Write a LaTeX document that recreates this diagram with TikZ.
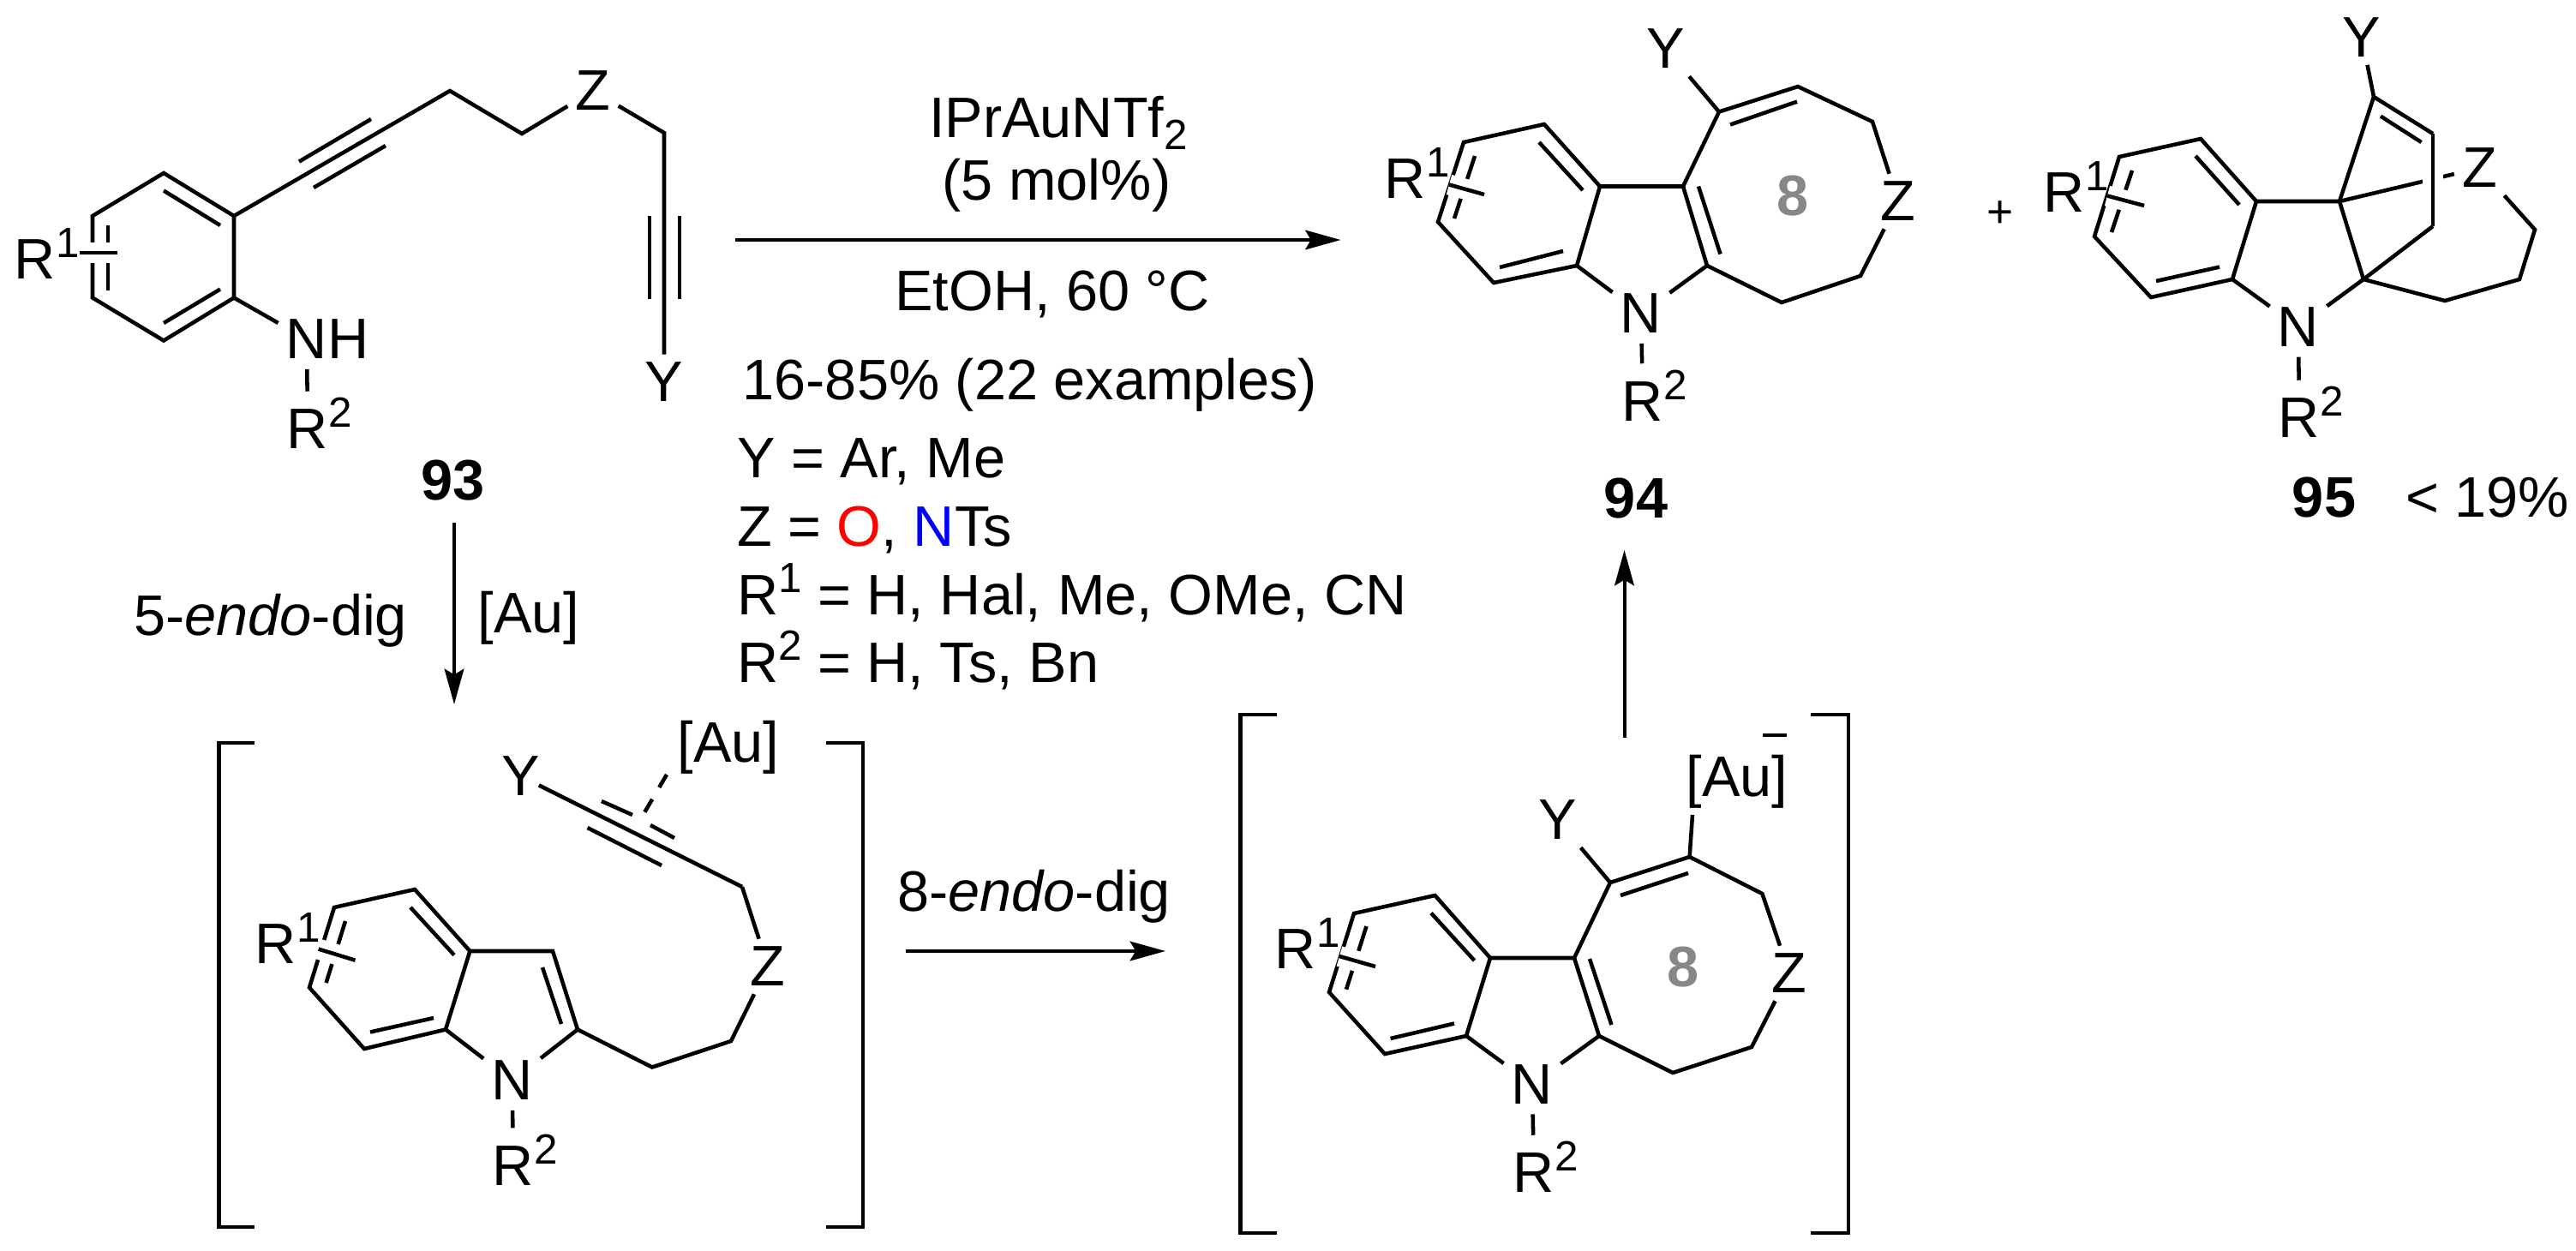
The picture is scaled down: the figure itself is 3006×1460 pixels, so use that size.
\documentclass[tikz,border=0pt]{standalone}
\usepackage{fontspec}
\setmainfont{Liberation Sans}
\usetikzlibrary{arrows.meta}

\newcommand{\chemfont}{\fontsize{50}{60}\selectfont}
\newcommand{\supn}[1]{\raisebox{19pt}[0pt][0pt]{\fontsize{37}{37}\selectfont #1}}
\newcommand{\subn}[1]{\raisebox{-10.5pt}[0pt][0pt]{\fontsize{37}{37}\selectfont #1}}

\tikzset{
  bond/.style={line width=3.4pt, line join=miter},
  subbond/.style={bond, preaction={draw, white, line width=18pt}},
  brk/.style={line width=3.4pt, line join=miter},
  rxn/.style={line width=3pt, -{Stealth[length=31pt, width=17pt, inset=5pt]}},
  atom/.style={inner sep=7pt, outer sep=0pt, font=\chemfont},
  txt/.style={inner sep=0pt, font=\chemfont},
  ringno/.style={inner sep=0pt, font=\chemfont\bfseries, text=black!47},
}

\begin{document}
\begin{tikzpicture}[x=0.75pt,y=0.75pt,yscale=-1,xscale=1]
\useasboundingbox (0,0) rectangle (3006,1460);

% 93
\foreach \nm/\px/\py in {a1/191/202, a2/273/252, a3/273/347.5, a4/191/397.5, a5/108/347.5, a6/108/252,
    a7/525/106, a8/609/156, a9/775/155, a10/93/295, a11/137/295}
  \coordinate (\nm) at (\px,\py);
\node (az) at (692,106) [atom] {Z};
\node (ay) at (775,446) [atom] {Y};
\node (an) at (358,396) [atom] {N};
\node (ah) at (407,396) [atom] {H};
\node (ar1) at (41,303) [atom] {R\rlap{\supn{1}}};
\node (ar2) at (359,501) [atom] {R\rlap{\supn{2}}};
\draw [bond] (a1) -- (a2) -- (a3) -- (a4) -- (a5) -- (a6) -- cycle;
\draw [bond] (a2) -- (a7) -- (a8) -- (az);
\draw [bond] (az) -- (a9) -- (ay);
\draw [bond] (a3) -- (an);
\draw [bond, shorten <=2pt, shorten >=9pt] (an) -- (ar2);
\draw [bond] (191,222.5) -- (257,263);
\draw [bond] (191,377) -- (257,337.5);
\draw [bond] (126,263) -- (126,338.5);
\draw [bond] (349,188.6) -- (433,139);
\draw [bond] (366,219) -- (450,170);
\draw [bond] (758,252) -- (758,349);
\draw [bond] (793,252) -- (793,349);
\draw [subbond] (a10) -- (a11);
\node (n93) at (529,583) [txt, anchor=base] {\bfseries 93};

% conditions
\coordinate (m1) at (858,280);
\coordinate (m2) at (1564.5,280);
\draw [rxn] (m1) -- (m2);
\node (cat) at (1235,160) [txt, anchor=base] {IPrAuNTf\subn{2}};
\node (load) at (1233,233) [txt, anchor=base] {(5 mol\%)};
\node (solv) at (1228,362) [txt, anchor=base] {EtOH, 60 °C};
\node (yield) at (1202,466) [txt, anchor=base] {16-85\% (22 examples)};
\node (ylist) at (860,557) [txt, anchor=base west] {Y = Ar, Me};
\node (zlist) at (860,637) [txt, anchor=base west] {Z = \textcolor{red}{O}, \textcolor{blue}{N}Ts};
\node (r1list) at (860,717) [txt, anchor=base west] {R\supn{1} = H, Hal, Me, OMe, CN};
\node (r2list) at (860,796) [txt, anchor=base west] {R\supn{2} = H, Ts, Bn};

% 94
\foreach \nm/\px/\py in {b1/1708/166, b2/1802/145, b3/1867/217.5, b4/1840/310, b5/1743/330, b6/1678/259,
    b7/1964/217.5, b8/1992/310, b9/2006/130.5, b10/2098/101, b11/2185/142, b12/2171/322, b13/2079/353,
    b14/1691/215.5, b15/1732/227}
  \coordinate (\nm) at (\px,\py);
\node (bz) at (2215,235) [atom] {Z};
\node (by) at (1944,57) [atom] {Y};
\node (bn) at (1915,366) [atom] {N};
\node (br1) at (1640,209) [atom] {R\rlap{\supn{1}}};
\node (br2) at (1917,468.5) [atom] {R\rlap{\supn{2}}};
\draw [bond] (b1) -- (b2) -- (b3) -- (b4) -- (b5) -- (b6) -- cycle;
\draw [bond] (b3) -- (b7) -- (b8);
\draw [bond] (b7) -- (b9) -- (b10) -- (b11) -- (bz);
\draw [bond] (bz) -- (b12) -- (b13) -- (b8);
\draw [bond] (b9) -- (by);
\draw [bond] (b4) -- (bn);
\draw [bond] (b8) -- (bn);
\draw [bond, shorten <=2pt, shorten >=9pt] (bn) -- (br2);
\draw [bond] (1796,166) -- (1847,222);
\draw [bond] (1750,312) -- (1824,293);
\draw [bond] (1721,182) -- (1697,255);
\draw [bond] (2019,145.5) -- (2097,118.6);
\draw [bond] (1982,217.5) -- (2007.5,296.5);
\draw [subbond] (b14) -- (b15);
\node (eightb) at (2092,229) [ringno] {8};
\node (n94) at (1909,604) [txt, anchor=base] {\bfseries 94};
\node (plus) at (2334,250) [inner sep=0pt, font=\fontsize{40}{48}\selectfont] {+};

% 95
\foreach \nm/\px/\py in {c1/2473/183, c2/2568/162, c3/2633/235, c4/2605/326, c5/2510/347, c6/2444/276,
    c7/2730/235, c8/2758/326, c9/2770/113, c10/2839/156, c11/2839/264, c12/2958/268, c13/2940/326,
    c14/2853/351, c15/2459/228.5, c16/2502/240}
  \coordinate (\nm) at (\px,\py);
\node (cz) at (2893.5,196) [atom] {Z};
\node (cy) at (2756,43.5) [atom] {Y};
\node (cn) at (2682,381.6) [atom] {N};
\node (cr1) at (2409,224.6) [atom] {R\rlap{\supn{1}}};
\node (cr2) at (2683,488) [atom] {R\rlap{\supn{2}}};
\draw [bond] (c7) -- (cz);
\draw [subbond] (c10) -- (c11);
\draw [bond] (c1) -- (c2) -- (c3) -- (c4) -- (c5) -- (c6) -- cycle;
\draw [bond] (c3) -- (c7) -- (c8);
\draw [bond] (c7) -- (c9) -- (c10);
\draw [bond] (c11) -- (c8) -- (c14) -- (c13) -- (c12) -- (cz);
\draw [bond] (c9) -- (cy);
\draw [bond] (c4) -- (cn);
\draw [bond] (c8) -- (cn);
\draw [bond, shorten <=2pt, shorten >=9pt] (cn) -- (cr2);
\draw [bond] (2562,182) -- (2613,239);
\draw [bond] (2516,328) -- (2590,311.6);
\draw [bond] (2488,199) -- (2464,271);
\draw [bond] (2778,135.6) -- (2825.5,166);
\draw [subbond] (c15) -- (c16);
\node (n95) at (2712,603) [txt, anchor=base] {\bfseries 95};
\node (limit) at (2807,603) [txt, anchor=base west] {< 19\%};

% first step
\coordinate (s1) at (530,610);
\coordinate (s2) at (530,822);
\draw [rxn] (s1) -- (s2);
\node (stepa) at (156,741) [txt, anchor=base west] {5-\textit{endo}-dig};
\node (aua) at (617,738) [txt, anchor=base] {[Au]};

% left intermediate
\foreach \nm/\px/\py in {d1/390/1059, d2/484/1038, d3/548.4/1110, d4/520/1201.5, d5/425/1224, d6/361/1152.5,
    d7/645/1110, d8/674/1201.5, d9/866/1035, d10/853/1215, d11/761/1245.5, d12/778/904, d13/751/950,
    d14/371.7/1107.6, d15/414.5/1120.7,
    p1/297/867, p2/255.6/867, p3/255.6/1432, p4/297/1432, p5/964/867, p6/1007/867, p7/1007/1432, p8/964/1432}
  \coordinate (\nm) at (\px,\py);
\node (dz) at (896,1128) [atom] {Z};
\node (dy) at (608,906) [atom] {Y};
\node (dn) at (597.6,1261) [atom] {N};
\node (dr1) at (322,1101.5) [atom] {R\rlap{\supn{1}}};
\node (dr2) at (599,1360.6) [atom] {R\rlap{\supn{2}}};
\node (dau) at (850,889) [txt, anchor=base] {[Au]};
\draw [brk] (p1) -- (p2) -- (p3) -- (p4);
\draw [brk] (p5) -- (p6) -- (p7) -- (p8);
\draw [bond] (d1) -- (d2) -- (d3) -- (d4) -- (d5) -- (d6) -- cycle;
\draw [bond] (d3) -- (d7) -- (d8);
\draw [bond] (d4) -- (dn);
\draw [bond] (d8) -- (dn);
\draw [bond] (d8) -- (d11) -- (d10) -- (dz);
\draw [bond] (dz) -- (d9);
\draw [bond, shorten <=-9pt] (dy) -- (d9);
\draw [bond, shorten <=2pt, shorten >=9pt] (dn) -- (dr2);
\draw [bond] (479,1059) -- (530,1114.6);
\draw [bond] (432,1204.5) -- (506,1188);
\draw [bond] (403,1075) -- (380.6,1147);
\draw [bond] (633,1129) -- (655,1195);
\draw [bond] (702,935) -- (738,951);
\draw [bond] (759,963) -- (787,978);
\draw [bond] (685.5,966) -- (772,1010);
\draw [bond, dash pattern=on 13pt off 12pt] (d12) -- (d13);
\draw [subbond] (d14) -- (d15);

% second step
\coordinate (t1) at (1057,1110);
\coordinate (t2) at (1360,1110);
\draw [rxn] (t1) -- (t2);
\node (stepb) at (1047,1063) [txt, anchor=base west] {8-\textit{endo}-dig};

% right intermediate
\foreach \nm/\px/\py in {e1/1580/1066, e2/1674.5/1045, e3/1739/1118, e4/1711/1209, e5/1616/1230, e6/1551/1158,
    e7/1837/1118, e8/1866/1209, e9/1879/1030, e10/1971.6/1000, e11/2056.4/1043, e12/2044/1222, e13/1952/1252,
    e14/1975/951, e15/1563/1116, e16/1605/1128, e17/2057/858, e18/2085/858,
    q1/1490/834, q2/1447.6/834, q3/1447.6/1439, q4/1490/1439, q5/2113/834, q6/2157/834, q7/2157/1439, q8/2113/1439}
  \coordinate (\nm) at (\px,\py);
\node (ez) at (2088,1136) [atom] {Z};
\node (ey) at (1817.5,957) [atom] {Y};
\node (en) at (1788,1265.5) [atom] {N};
\node (er1) at (1512,1107.6) [atom] {R\rlap{\supn{1}}};
\node (er2) at (1790,1369) [atom] {R\rlap{\supn{2}}};
\node (eau) at (2027,929) [txt, anchor=base] {[Au]};
\draw [brk] (q1) -- (q2) -- (q3) -- (q4);
\draw [brk] (q5) -- (q6) -- (q7) -- (q8);
\draw [bond] (e1) -- (e2) -- (e3) -- (e4) -- (e5) -- (e6) -- cycle;
\draw [bond] (e3) -- (e7) -- (e8);
\draw [bond] (e7) -- (e9) -- (e10) -- (e11) -- (ez);
\draw [bond] (ez) -- (e12) -- (e13) -- (e8);
\draw [bond] (e9) -- (ey);
\draw [bond] (e10) -- (e14);
\draw [bond] (e17) -- (e18);
\draw [bond] (e4) -- (en);
\draw [bond] (e8) -- (en);
\draw [bond, shorten <=2pt, shorten >=9pt] (en) -- (er2);
\draw [bond] (1670,1065.6) -- (1720.5,1121);
\draw [bond] (1622.6,1212) -- (1697,1194.5);
\draw [bond] (1594.5,1081) -- (1571,1154.6);
\draw [bond] (1855,1119) -- (1880.5,1196);
\draw [bond] (1891,1045) -- (1970,1019);
\draw [subbond] (e15) -- (e16);
\node (eighte) at (1964,1129) [ringno] {8};

% last step
\coordinate (u1) at (1895.5,861);
\coordinate (u2) at (1895.5,642);
\draw [rxn] (u1) -- (u2);
\end{tikzpicture}
\end{document}
